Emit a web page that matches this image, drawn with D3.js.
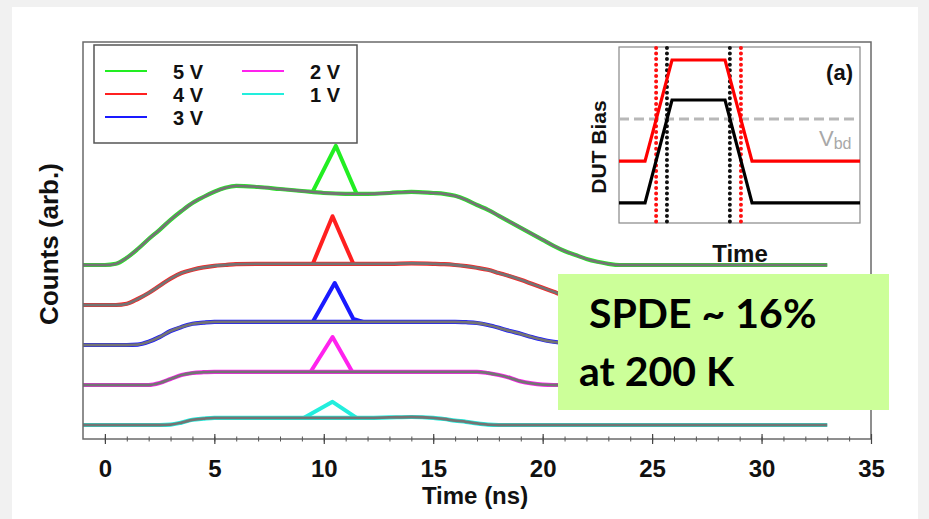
<!DOCTYPE html>
<html><head><meta charset="utf-8">
<script src="https://cdn.jsdelivr.net/npm/d3@7"></script>
<style>html,body{margin:0;padding:0;background:#f1f1f1;} svg{display:block}</style>
</head><body>
<svg id="c" width="929" height="519"></svg>
<script>
// ---------- data ----------
const times = [-1,0,0.5,1,1.5,2,2.5,3,3.5,4, 4.5,5,5.5,6,7,8,9,10,11,12, 13,14,15,15.5,16,16.5,17,17.5,18,18.5, 19,19.5,20,20.5,21,21.5,22,22.5,23,23.5, 24,25,27,30,33];
const counts5V = [0,0,0.03,0.18,0.4,0.65,0.88,1.13,1.35,1.55, 1.7,1.83,1.93,1.98,1.95,1.9,1.85,1.8,1.78,1.78, 1.8,1.83,1.8,1.78,1.73,1.63,1.5,1.38,1.23,1.08, 0.93,0.78,0.63,0.48,0.35,0.25,0.15,0.08,0.03,0, 0,0,0,0,0];
const counts4V = [0,0,0,0.03,0.15,0.3,0.48,0.66,0.8,0.88, 0.94,0.98,1.0,1.02,1.03,1.03,1.03,1.03,1.03,1.03, 1.03,1.04,1.03,1.02,1.0,0.97,0.93,0.88,0.8,0.72, 0.63,0.53,0.43,0.33,0.23,0.15,0.08,0.04,0.01,0, 0,0,0,0,0];
const counts3V = [0,0,0,0,0.01,0.08,0.2,0.35,0.45,0.53, 0.56,0.58,0.58,0.58,0.58,0.58,0.58,0.58,0.58,0.58, 0.58,0.58,0.58,0.58,0.58,0.57,0.55,0.5,0.43,0.35, 0.28,0.2,0.13,0.08,0.04,0.01,0,0,0,0, 0,0,0,0,0];
const counts2V = [0,0,0,0,0,0,0.05,0.15,0.25,0.3, 0.32,0.33,0.33,0.33,0.33,0.33,0.33,0.33,0.33,0.33, 0.33,0.33,0.33,0.33,0.33,0.33,0.33,0.3,0.25,0.18, 0.09,0.04,0.01,0,0,0,0,0,0,0, 0,0,0,0,0];
const counts1V = [0,0,0,0,0,0,0,0.01,0.06,0.13, 0.16,0.18,0.18,0.18,0.18,0.18,0.18,0.18,0.18,0.18, 0.19,0.2,0.18,0.15,0.11,0.08,0.04,0.01,0,0, 0,0,0,0,0,0,0,0,0,0, 0,0,0,0,0];

const peakTimes5V = [9.5,10.55,11.5];      const peakCounts5V = [1.84,2.98,1.78];
const peakTimes4V = [9.5,10.4,11.35];      const peakCounts4V = [1.03,2.22,1.03];
const peakTimes3V = [9.5,10.5,11.35,11.8]; const peakCounts3V = [0.58,1.55,0.65,0.58];
const peakTimes2V = [9.4,10.4,11.3];       const peakCounts2V = [0.33,1.2,0.33];
const peakTimes1V = [9.1,10.4,11.5];       const peakCounts1V = [0.18,0.58,0.18];

const biasLabels = ["5 V","4 V","3 V","2 V","1 V"];
const offsets = [4,3,2,1,0];
const xTicks = [0,5,10,15,20,25,30,35];
const xMinorTicks = d3.range(0,36,1);

// inset (DUT bias schematic)
const insetTime = [0,1.08,2.2,4.4,5.52,10];
const biasRed = [3.52,3.52,9.26,9.26,3.52,3.52];
const biasBlack = [1.14,1.14,6.99,6.99,1.14,1.14];
const vbdLevel = 5.91;
const markRed = [1.54,5.06];
const markBlack = [1.99,4.6];

// ---------- drawing ----------
const svg = d3.select('#c');
const FONT = "'Liberation Sans', Arial, sans-serif";
svg.append('rect').attr('x',12).attr('y',7).attr('width',906).attr('height',512).attr('fill','#fff');

const x = d3.scaleLinear().domain([-1,35]).range([83,871]);
const y = d3.scaleLinear().domain([-0.35,9.575]).range([439,42]);

const colors = ['#22ee22','#ff2020','#1a1aff','#ff22ee','#22eedd'];
const envs = [counts5V,counts4V,counts3V,counts2V,counts1V];
const pT = [peakTimes5V,peakTimes4V,peakTimes3V,peakTimes2V,peakTimes1V];
const pC = [peakCounts5V,peakCounts4V,peakCounts3V,peakCounts2V,peakCounts1V];

const plot = svg.append('g');
const lineEnv = d3.line().curve(d3.curveMonotoneX);
envs.forEach((arr,i)=>{
  const pts = times.map((t,k)=>[x(t), y(offsets[i]+arr[k])]);
  plot.append('path').attr('d',lineEnv(pts)).attr('fill','none').attr('stroke',colors[i]).attr('stroke-width',4.2);
  const pk = pT[i].map((t,k)=>[x(t), y(offsets[i]+pC[i][k])]);
  plot.append('path').attr('d',d3.line()(pk)).attr('fill','none').attr('stroke',colors[i]).attr('stroke-width',4).attr('stroke-linejoin','round');
  plot.append('path').attr('d',lineEnv(pts)).attr('fill','none').attr('stroke','#747474').attr('stroke-width',2.8);
});

// frame
svg.append('rect').attr('x',x(-1)).attr('y',y(9.575)).attr('width',x(35)-x(-1)).attr('height',y(-0.35)-y(9.575))
  .attr('fill','none').attr('stroke','#6a6a6a').attr('stroke-width',1.5);

// axes
const axY = y(-0.35);
svg.append('g').attr('transform',`translate(0,${axY})`).call(d3.axisBottom(x).tickValues(xMinorTicks).tickSize(2.5).tickFormat(''))
  .call(g=>{g.select('.domain').remove(); g.selectAll('line').attr('stroke','#555');});
svg.append('g').attr('transform',`translate(0,${axY})`).call(d3.axisBottom(x).tickValues(xMinorTicks).tickSize(-2.5).tickFormat(''))
  .call(g=>{g.select('.domain').remove(); g.selectAll('line').attr('stroke','#555');});
svg.append('g').attr('transform',`translate(0,${axY})`).call(d3.axisBottom(x).tickValues(xTicks).tickSize(-5).tickFormat(''))
  .call(g=>{g.select('.domain').remove(); g.selectAll('line').attr('stroke','#444').attr('stroke-width',1.2);});
const xa = svg.append('g').attr('transform',`translate(0,${axY})`).call(d3.axisBottom(x).tickValues(xTicks).tickSize(5).tickPadding(16).tickFormat(d3.format('d')));
xa.select('.domain').remove();
xa.selectAll('line').attr('stroke','#444').attr('stroke-width',1.2);
xa.selectAll('text').attr('font-family',FONT).attr('font-weight','bold').attr('font-size',24).attr('fill','#111');

svg.append('text').attr('x',475).attr('y',504).attr('text-anchor','middle').attr('font-family',FONT).attr('font-weight','bold').attr('font-size',24).attr('fill','#111').text('Time (ns)');
svg.append('text').attr('transform','translate(58,244) rotate(-90)').attr('text-anchor','middle').attr('font-family',FONT).attr('font-weight','bold').attr('font-size',26).attr('fill','#111').text('Counts (arb.)');

// legend
const lg = svg.append('g');
lg.append('rect').attr('x',94).attr('y',45).attr('width',263).attr('height',98).attr('fill','#fff').attr('stroke','#555').attr('stroke-width',1.5);
const legPos = [[105,71],[105,94],[105,117],[242,71],[242,94]];
biasLabels.forEach((lab,i)=>{
  const [lx,ly]=legPos[i];
  lg.append('line').attr('x1',lx).attr('x2',lx+42).attr('y1',ly).attr('y2',ly).attr('stroke',colors[i]).attr('stroke-width',2.2);
  lg.append('text').attr('x',lx+68).attr('y',ly+7.5).attr('font-family',FONT).attr('font-weight','bold').attr('font-size',20).attr('fill','#111').text(lab);
});

// inset
const ix = d3.scaleLinear().domain([0,10]).range([619,860]);
const iy = d3.scaleLinear().domain([0,10]).range([223,47]);
const ins = svg.append('g');
ins.append('rect').attr('x',ix(0)).attr('y',iy(10)).attr('width',ix(10)-ix(0)).attr('height',iy(0)-iy(10)).attr('fill','#fff').attr('stroke','#888').attr('stroke-width',1.2);
ins.append('line').attr('x1',ix(0)).attr('x2',ix(10)).attr('y1',iy(vbdLevel)).attr('y2',iy(vbdLevel)).attr('stroke','#b8b8b8').attr('stroke-width',3).attr('stroke-dasharray','10,5');
const iline = d3.line().x((d,k)=>ix(insetTime[k])).y(d=>iy(d));
markRed.forEach(m=>ins.append('line').attr('x1',ix(m)).attr('x2',ix(m)).attr('y1',iy(9.95)).attr('y2',iy(-0.15)).attr('stroke','#ff1010').attr('stroke-width',4).attr('stroke-linecap','round').attr('stroke-dasharray','0,5.6'));
markBlack.forEach(m=>ins.append('line').attr('x1',ix(m)).attr('x2',ix(m)).attr('y1',iy(9.95)).attr('y2',iy(-0.15)).attr('stroke','#111').attr('stroke-width',4).attr('stroke-linecap','round').attr('stroke-dasharray','0,5.6'));
ins.append('path').attr('d',iline(biasRed)).attr('fill','none').attr('stroke','#ff0000').attr('stroke-width',3.2);
ins.append('path').attr('d',iline(biasBlack)).attr('fill','none').attr('stroke','#000').attr('stroke-width',3.2);
const vt = ins.append('text').attr('x',819).attr('y',146).attr('font-family',FONT).attr('font-size',22).attr('fill','#a8a8a8');
vt.append('tspan').text('V');
vt.append('tspan').attr('font-size',16).attr('dy',3).text('bd');
ins.append('text').attr('x',853).attr('y',80).attr('text-anchor','end').attr('font-family',FONT).attr('font-weight','bold').attr('font-size',22).attr('fill','#111').text('(a)');
ins.append('text').attr('transform','translate(606,147) rotate(-90)').attr('text-anchor','middle').attr('font-family',FONT).attr('font-weight','bold').attr('font-size',21).attr('fill','#111').text('DUT Bias');
ins.append('text').attr('x',740).attr('y',262).attr('text-anchor','middle').attr('font-family',FONT).attr('font-weight','bold').attr('font-size',24).attr('fill','#111').text('Time');

// annotation box
svg.append('rect').attr('x',558).attr('y',274).attr('width',331).attr('height',136).attr('fill','#ccff99');
svg.append('text').attr('x',589).attr('y',328).attr('font-family',"Lato, 'Open Sans', sans-serif").attr('font-weight','bold').attr('font-size',41).attr('fill','#000').text('SPDE ~ 16%');
svg.append('text').attr('x',579).attr('y',386).attr('font-family',"Lato, 'Open Sans', sans-serif").attr('font-weight','bold').attr('font-size',41).attr('fill','#000').text('at 200 K');
</script>
</body></html>
